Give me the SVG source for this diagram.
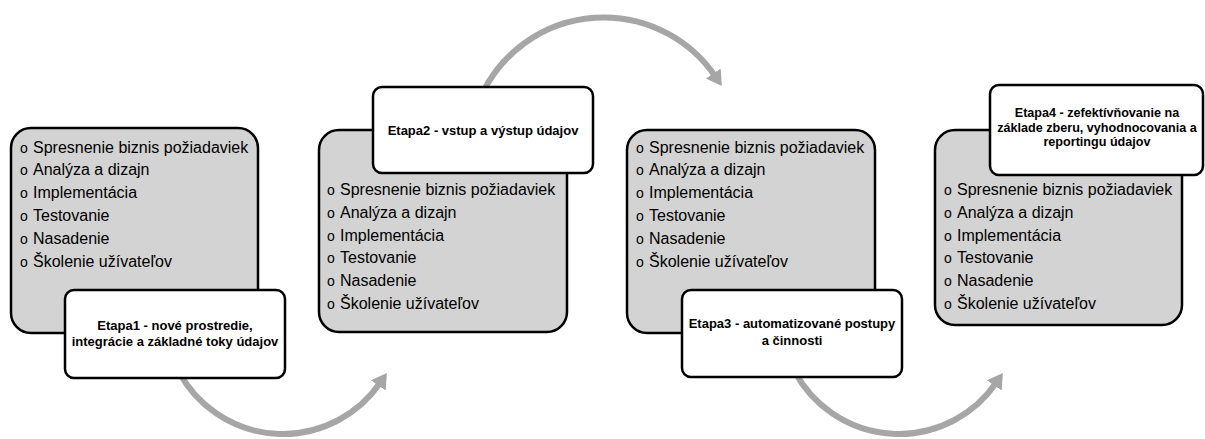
<svg xmlns="http://www.w3.org/2000/svg" width="1205" height="439" viewBox="0 0 1205 439">
<style>
.gray{fill:#d3d3d3;stroke:#000;stroke-width:2.5}
.white{fill:#fff;stroke:#000;stroke-width:2.5}
.item{font-family:"Liberation Sans",Arial,sans-serif;font-size:16px;fill:#000}
.bul{font-family:"Liberation Sans",Arial,sans-serif;font-size:14px}
.title{font-family:"Liberation Sans",Arial,sans-serif;font-size:13px;font-weight:bold;fill:#000;text-anchor:middle}
.title4{font-size:12.6px}
.arc{fill:none;stroke:#a6a6a6;stroke-width:6;marker-end:url(#ah)}
</style>
<defs>
<marker id="ah" markerUnits="userSpaceOnUse" markerWidth="20" markerHeight="20" refX="3" refY="9" orient="auto">
<path d="M0,0 L15,9 L0,18 z" fill="#a6a6a6"/>
</marker>
</defs>
<rect width="1205" height="439" fill="#fff"/>
<g id="connectors">
<path class="arc" d="M179,372 A118,118 0 0 0 380,383"/>
<path class="arc" d="M483,92 A135,135 0 0 1 715,76"/>
<path class="arc" d="M795,372 A118,118 0 0 0 996,383"/>
</g>
<g id="stage1">
<rect class="gray" x="11" y="128" width="247" height="205" rx="20"/>
<g class="item">
<text x="20" y="152.5"><tspan class="bul">o</tspan><tspan x="33">Spresnenie biznis požiadaviek</tspan></text>
<text x="20" y="175.3"><tspan class="bul">o</tspan><tspan x="33">Analýza a dizajn</tspan></text>
<text x="20" y="198.2"><tspan class="bul">o</tspan><tspan x="33">Implementácia</tspan></text>
<text x="20" y="221"><tspan class="bul">o</tspan><tspan x="33">Testovanie</tspan></text>
<text x="20" y="244"><tspan class="bul">o</tspan><tspan x="33">Nasadenie</tspan></text>
<text x="20" y="266.8"><tspan class="bul">o</tspan><tspan x="33">Školenie užívateľov</tspan></text>
</g>
</g>
<g id="etapa1">
<rect class="white" x="65" y="290" width="220" height="88" rx="9"/>
<text class="title" x="175" y="330">Etapa1 - nové prostredie,</text>
<text class="title" x="175" y="346">integrácie a základné toky údajov</text>
</g>
<g id="stage2">
<rect class="gray" x="319" y="130" width="248" height="202" rx="20"/>
<g class="item">
<text x="327" y="195"><tspan class="bul">o</tspan><tspan x="340">Spresnenie biznis požiadaviek</tspan></text>
<text x="327" y="217.8"><tspan class="bul">o</tspan><tspan x="340">Analýza a dizajn</tspan></text>
<text x="327" y="240.6"><tspan class="bul">o</tspan><tspan x="340">Implementácia</tspan></text>
<text x="327" y="263.4"><tspan class="bul">o</tspan><tspan x="340">Testovanie</tspan></text>
<text x="327" y="286.2"><tspan class="bul">o</tspan><tspan x="340">Nasadenie</tspan></text>
<text x="327" y="309"><tspan class="bul">o</tspan><tspan x="340">Školenie užívateľov</tspan></text>
</g>
</g>
<g id="etapa2">
<rect class="white" x="373" y="87" width="220" height="86" rx="9"/>
<text class="title" x="483" y="135">Etapa2 - vstup a výstup údajov</text>
</g>
<g id="stage3">
<rect class="gray" x="627" y="130" width="248" height="203" rx="20"/>
<g class="item">
<text x="636" y="152.5"><tspan class="bul">o</tspan><tspan x="649">Spresnenie biznis požiadaviek</tspan></text>
<text x="636" y="175.3"><tspan class="bul">o</tspan><tspan x="649">Analýza a dizajn</tspan></text>
<text x="636" y="198.2"><tspan class="bul">o</tspan><tspan x="649">Implementácia</tspan></text>
<text x="636" y="221"><tspan class="bul">o</tspan><tspan x="649">Testovanie</tspan></text>
<text x="636" y="244"><tspan class="bul">o</tspan><tspan x="649">Nasadenie</tspan></text>
<text x="636" y="266.8"><tspan class="bul">o</tspan><tspan x="649">Školenie užívateľov</tspan></text>
</g>
</g>
<g id="etapa3">
<rect class="white" x="682" y="290" width="220" height="87" rx="9"/>
<text class="title" x="792" y="328">Etapa3 - automatizované postupy</text>
<text class="title" x="792" y="345">a činnosti</text>
</g>
<g id="stage4">
<rect class="gray" x="935" y="130" width="247" height="195" rx="20"/>
<g class="item">
<text x="944" y="195"><tspan class="bul">o</tspan><tspan x="957">Spresnenie biznis požiadaviek</tspan></text>
<text x="944" y="217.8"><tspan class="bul">o</tspan><tspan x="957">Analýza a dizajn</tspan></text>
<text x="944" y="240.6"><tspan class="bul">o</tspan><tspan x="957">Implementácia</tspan></text>
<text x="944" y="263.4"><tspan class="bul">o</tspan><tspan x="957">Testovanie</tspan></text>
<text x="944" y="286.2"><tspan class="bul">o</tspan><tspan x="957">Nasadenie</tspan></text>
<text x="944" y="309"><tspan class="bul">o</tspan><tspan x="957">Školenie užívateľov</tspan></text>
</g>
</g>
<g id="etapa4">
<rect class="white" x="990" y="85" width="213" height="90" rx="9"/>
<text class="title title4" x="1097" y="117">Etapa4 - zefektívňovanie na</text>
<text class="title title4" x="1097" y="131.5">základe zberu, vyhodnocovania a</text>
<text class="title title4" x="1097" y="146">reportingu údajov</text>
</g>
</svg>
